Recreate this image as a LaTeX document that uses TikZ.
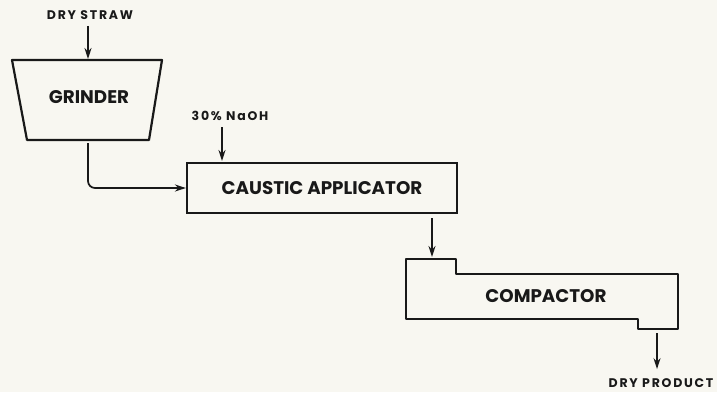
\documentclass[tikz,border=0pt]{standalone}
\usepackage{fontspec}
\setmainfont{Poppins}
\usetikzlibrary{arrows.meta}
\definecolor{paper}{RGB}{248,247,241}
\definecolor{ink}{RGB}{25,25,25}
\begin{document}
\begin{tikzpicture}[x=1pt,y=-1pt,line width=2.2pt,draw=ink,text=ink,
  lab/.style={font=\bfseries\fontsize{12.5}{14}\selectfont\addfontfeature{LetterSpace=14}},
  unit/.style={font=\bfseries\fontsize{18.3}{20}\selectfont},
  flow/.style={-{Stealth[length=11pt,width=7pt]},line width=1.7pt}]
  \useasboundingbox (0,0) rectangle (717,392);
  \fill[paper] (0,0) rectangle (717,392);
  % grinder hopper
  \path (12,60) coordinate (G1) (162,60) coordinate (G2) (149,140) coordinate (G3) (27,140) coordinate (G4);
  \draw[line join=round] (G1)--(G2)--(G3)--(G4)--cycle;
  \node[unit] (grinder) at (89,97) {GRINDER};
  \path (88,59) coordinate (gin) (88,143) coordinate (gout);
  % caustic applicator
  \node[draw,minimum width=270pt,minimum height=50pt,inner sep=0pt,unit] (caustic) at (322,188) {CAUSTIC APPLICATOR};
  \path (222,161) coordinate (cin) (432,213) coordinate (cout);
  % compactor
  \draw[line join=round] (406,259)--(456,259)--(456,274)--(678,274)--(678,329)--(638,329)--(638,319)--(406,319)--cycle;
  \node[unit] (compactor) at (546,296) {COMPACTOR};
  \path (432,257) coordinate (kin) (657,331) coordinate (kout);
  % feeds and product
  \node[lab] (straw) at (90,15) {DRY STRAW};
  \node[lab] (naoh) at (230,116) {30\% NaOH};
  \node[lab] (product) at (661,383) {DRY PRODUCT};
  \draw[flow,shorten <=2pt] (straw.south -| gin) -- (gin);
  \draw[flow,rounded corners=7pt] (gout) |- (caustic.west);
  \draw[flow,shorten <=2pt] (naoh.south -| cin) -- (cin);
  \draw[flow,shorten <=5pt] (cout) -- (kin);
  \draw[flow,shorten <=2pt,shorten >=5pt] (kout) -- (product.north -| kout);
\end{tikzpicture}
\end{document}
